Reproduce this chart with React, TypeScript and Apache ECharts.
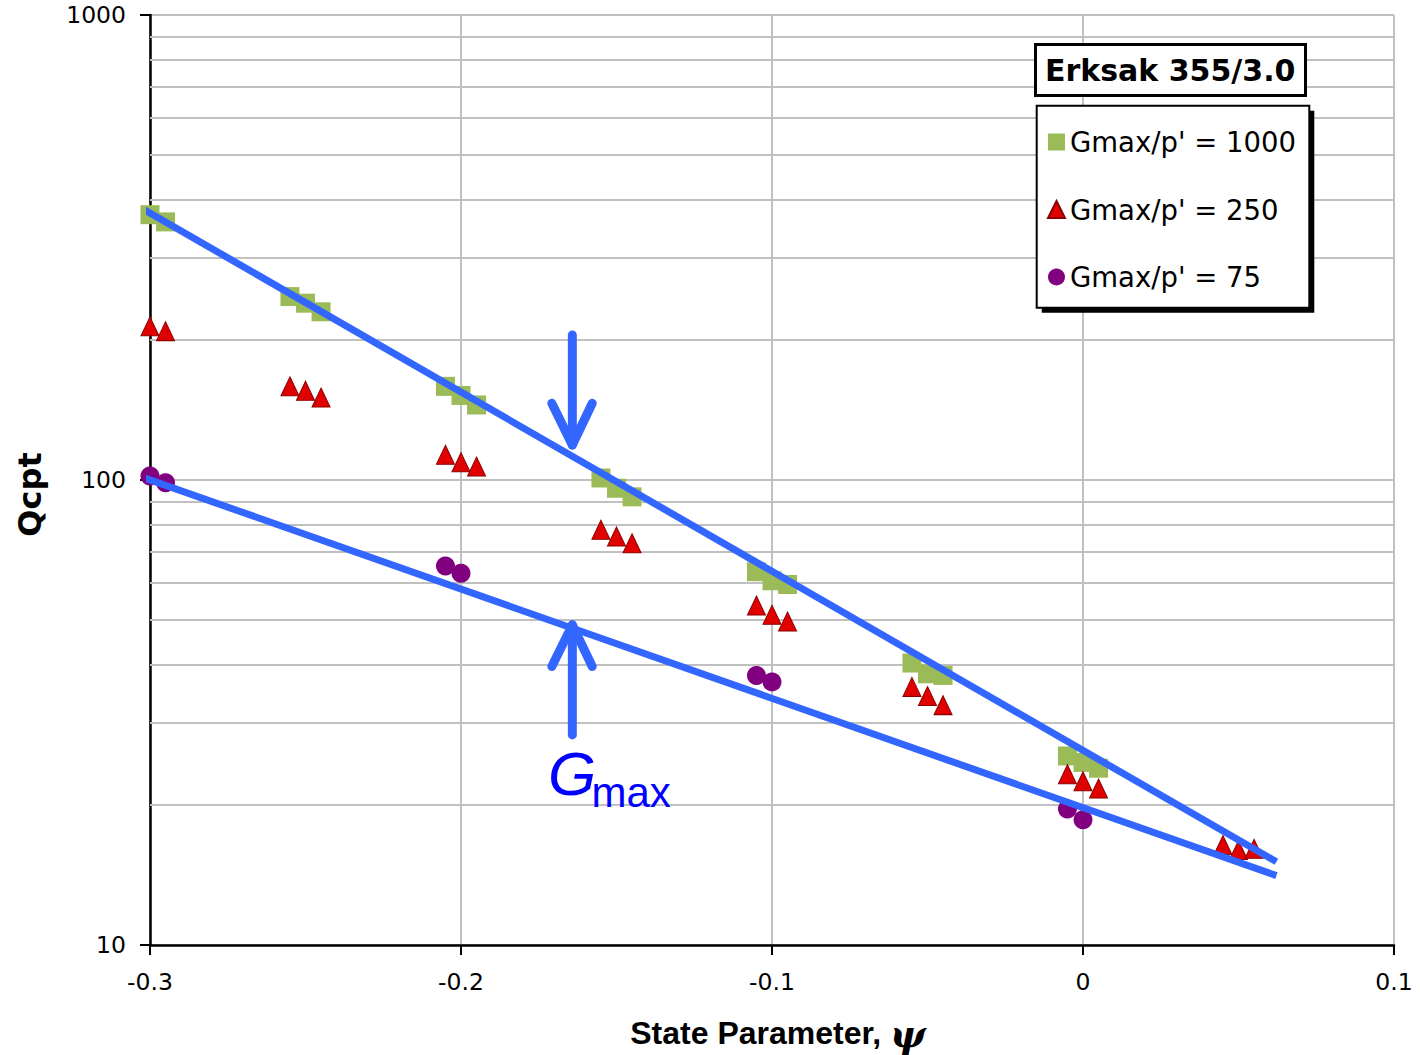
import React, { useEffect, useRef } from "react";
import * as echarts from "echarts";

// State parameter (x) and Qcpt (y) for each Gmax/p' group
const psiG1000 = [-0.3, -0.295, -0.255, -0.25, -0.245, -0.205, -0.2, -0.195, -0.155, -0.15, -0.145, -0.105, -0.1, -0.095, -0.055, -0.05, -0.045, -0.005, 0, 0.005];
const qG1000 = [372, 359, 248, 240, 230, 159, 152, 145, 101, 96, 92, 63.5, 60.7, 59.6, 40.4, 38.3, 38.0, 25.5, 24.7, 24.0];

const psiG250 = [-0.3, -0.295, -0.255, -0.25, -0.245, -0.205, -0.2, -0.195, -0.155, -0.15, -0.145, -0.105, -0.1, -0.095, -0.055, -0.05, -0.045, -0.005, 0, 0.005, 0.045, 0.05, 0.055];
const qG250 = [214, 209, 159, 155.6, 150.4, 113.3, 109.2, 106.9, 78.2, 75.6, 73.1, 53.7, 51.3, 49.6, 35.9, 34.3, 32.8, 23.3, 22.5, 21.7, 16.4, 16.0, 16.1];

const psiG75 = [-0.3, -0.295, -0.205, -0.2, -0.105, -0.1, -0.005, 0];
const qG75 = [102, 98.6, 65.3, 63.0, 38.0, 36.8, 19.6, 18.6];

// Bounding lines (blue)
const upperLinePsi = [-0.3035, 0.0622];
const upperLineQ = [387, 15.1];
const lowerLinePsi = [-0.3035, 0.0622];
const lowerLineQ = [102, 14.1];

// Annotation arrows
const arrowPsi = -0.1642;
const arrowHeadPsi = [-0.1708, -0.1578];
const downArrowQ = [205, 118.9]; // shaft top, tip
const downArrowHeadQ = 146.2;
const upArrowQ = [28.3, 48.8]; // shaft bottom, tip
const upArrowHeadQ = 39.7;

// Axis settings
const xTicks = [-0.3, 0.1];
const yRange = [10, 1000];
const minorGridQ = [20, 30, 40, 50, 60, 70, 80, 90, 200, 300, 400, 500, 600, 700, 800, 900];

const seriesNames = ["Gmax/p' = 1000", "Gmax/p' = 250", "Gmax/p' = 75"];

const zip = (xs: number[], ys: number[]) => xs.map((x, i) => [x, ys[i]]);

const BLUE = "#3366ff";
const GRID = "#c0c0c0";

export default function App() {
  const ref = useRef<HTMLDivElement>(null);

  useEffect(() => {
    const chart = echarts.init(ref.current!, null, { renderer: "svg" });
    const arrowStyle = { color: BLUE, width: 9, cap: "round", join: "round" };
    const option: any = {
      animation: false,
      backgroundColor: "#ffffff",
      title: {
        text: "Erksak 355/3.0",
        left: 1035,
        top: 44,
        padding: [9, 10, 9, 10],
        backgroundColor: "#ffffff",
        borderColor: "#000000",
        borderWidth: 3,
        textStyle: {
          fontFamily: "DejaVu Sans",
          fontWeight: "bold",
          fontSize: 30,
          lineHeight: 34,
          color: "#000000",
        },
      },
      legend: {
        data: seriesNames,
        orient: "vertical",
        left: 1047,
        top: 127,
        padding: 0,
        itemGap: 37.5,
        itemWidth: 17,
        itemHeight: 17,
        selectedMode: false,
        textStyle: {
          fontFamily: "DejaVu Sans",
          fontSize: 27.5,
          lineHeight: 30,
          color: "#000000",
        },
      },
      grid: {
        left: 150,
        right: 26,
        top: 15,
        bottom: 110,
        containLabel: false,
        outerBoundsMode: "none",
      },
      xAxis: {
        type: "value",
        min: xTicks[0],
        max: xTicks[1],
        interval: 0.1,
        name: "{b|State Parameter, }{p|ψ}",
        nameLocation: "middle",
        nameGap: 68,
        nameTextStyle: {
          padding: [0, 0, 0, 12],
          rich: {
            b: {
              fontFamily: "Liberation Sans",
              fontWeight: "bold",
              fontSize: 32,
              lineHeight: 40,
              color: "#000000",
            },
            p: {
              fontFamily: "DejaVu Serif",
              fontStyle: "italic",
              fontWeight: "bold",
              fontSize: 38,
              lineHeight: 40,
              color: "#000000",
            },
          },
        },
        axisLine: { show: true, onZero: false, lineStyle: { color: "#000000", width: 2.5 } },
        axisTick: { show: true, length: 10, lineStyle: { color: "#000000", width: 2 } },
        axisLabel: {
          margin: 25,
          fontFamily: "DejaVu Sans",
          fontSize: 23.5,
          color: "#000000",
          formatter: (v: number) => String(Math.round(v * 10) / 10),
        },
        splitLine: { show: true, lineStyle: { color: GRID, width: 2 } },
      },
      yAxis: {
        type: "log",
        logBase: 10,
        min: yRange[0],
        max: yRange[1],
        name: "Qcpt",
        nameLocation: "middle",
        nameGap: 104,
        nameTextStyle: {
          fontFamily: "DejaVu Sans",
          fontWeight: "bold",
          fontSize: 32,
          color: "#000000",
          padding: [0, 29, 0, 0],
        },
        axisLine: { show: true, onZero: false, lineStyle: { color: "#000000", width: 2.5 } },
        axisTick: { show: true, length: 10, lineStyle: { color: "#000000", width: 2 } },
        axisLabel: {
          margin: 24,
          fontFamily: "DejaVu Sans",
          fontSize: 23.5,
          color: "#000000",
          formatter: (v: number) => String(Math.round(v)),
        },
        splitLine: { show: true, lineStyle: { color: GRID, width: 2 } },
        minorTick: { show: false },
        minorSplitLine: { show: false },
      },
      graphic: [
        {
          type: "rect",
          z: 3,
          shape: { x: 1041.7, y: 110.7, width: 272.6, height: 202 },
          style: { fill: "#000000" },
          silent: true,
        },
        {
          type: "rect",
          z: 3,
          shape: { x: 1036.7, y: 105.7, width: 272.6, height: 202 },
          style: { fill: "#ffffff", stroke: "#000000", lineWidth: 2 },
          silent: true,
        },
        {
          type: "text",
          z: 5,
          x: 548,
          y: 773.5,
          style: {
            text: "G",
            fontFamily: "Liberation Sans",
            fontStyle: "italic",
            fontSize: 62,
            fill: "#0000ff",
            align: "left",
            verticalAlign: "middle",
          },
          silent: true,
        },
        {
          type: "text",
          z: 5,
          x: 591.5,
          y: 792,
          style: {
            text: "max",
            fontFamily: "Liberation Sans",
            fontSize: 42,
            fill: "#0000ff",
            align: "left",
            verticalAlign: "middle",
          },
          silent: true,
        },
      ],
      series: [
        {
          type: "lines",
          coordinateSystem: "cartesian2d",
          z: 1,
          silent: true,
          lineStyle: { color: GRID, width: 2, opacity: 1 },
          data: minorGridQ.map((q) => ({ coords: [[xTicks[0], q], [xTicks[1], q]] })),
        },
        {
          name: seriesNames[0],
          type: "scatter",
          z: 2,
          symbol: "rect",
          symbolSize: 19,
          itemStyle: { color: "#9bbb59", opacity: 1 },
          data: zip(psiG1000, qG1000),
        },
        {
          name: seriesNames[1],
          type: "scatter",
          z: 2,
          symbol: "triangle",
          symbolSize: [18, 19],
          itemStyle: { color: "#e00000", borderColor: "#8b0000", borderWidth: 1, opacity: 1 },
          data: zip(psiG250, qG250),
        },
        {
          name: seriesNames[2],
          type: "scatter",
          z: 2,
          symbol: "circle",
          symbolSize: 19,
          itemStyle: { color: "#800080", opacity: 1 },
          data: zip(psiG75, qG75),
        },
        {
          type: "line",
          z: 4,
          clip: false,
          silent: true,
          symbol: "none",
          lineStyle: { color: BLUE, width: 7 },
          data: zip(upperLinePsi, upperLineQ),
        },
        {
          type: "line",
          z: 4,
          clip: false,
          silent: true,
          symbol: "none",
          lineStyle: { color: BLUE, width: 7 },
          data: zip(lowerLinePsi, lowerLineQ),
        },
        {
          type: "line",
          z: 4,
          silent: true,
          symbol: "none",
          lineStyle: arrowStyle,
          data: [[arrowPsi, downArrowQ[0]], [arrowPsi, downArrowQ[1]]],
        },
        {
          type: "line",
          z: 4,
          silent: true,
          symbol: "none",
          lineStyle: arrowStyle,
          data: [[arrowHeadPsi[0], downArrowHeadQ], [arrowPsi, downArrowQ[1]], [arrowHeadPsi[1], downArrowHeadQ]],
        },
        {
          type: "line",
          z: 4,
          silent: true,
          symbol: "none",
          lineStyle: arrowStyle,
          data: [[arrowPsi, upArrowQ[0]], [arrowPsi, upArrowQ[1]]],
        },
        {
          type: "line",
          z: 4,
          silent: true,
          symbol: "none",
          lineStyle: arrowStyle,
          data: [[arrowHeadPsi[0], upArrowHeadQ], [arrowPsi, upArrowQ[1]], [arrowHeadPsi[1], upArrowHeadQ]],
        },
      ],
    };
    chart.setOption(option);
    return () => chart.dispose();
  }, []);

  return (
    <div
      ref={ref}
      style={{ position: "absolute", left: 0, top: 0, width: 1420, height: 1055, background: "#ffffff" }}
    />
  );
}
